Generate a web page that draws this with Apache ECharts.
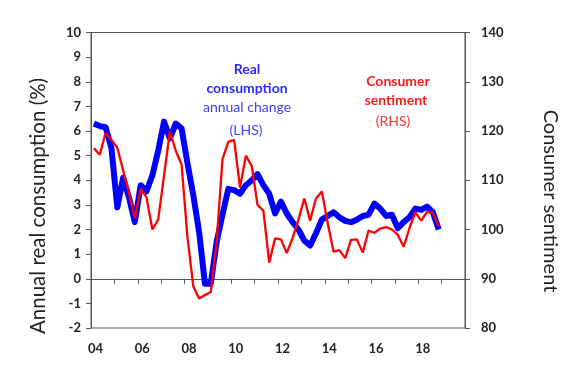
<!DOCTYPE html>
<html><head><meta charset="utf-8">
<script src="https://cdn.jsdelivr.net/npm/echarts@6/dist/echarts.min.js"></script>
<style>html,body{margin:0;padding:0;background:#fff}#c{width:570px;height:371px}</style>
</head><body><div id="c"></div>
<script>
const years = [2004,2005,2006,2007,2008,2009,2010,2011,2012,2013,2014,2015,2016,2017,2018,2019];
const quarters = [];
years.forEach(y => { for (let q = 1; q <= 4; q++) quarters.push(y + 'Q' + q); });
const xTickLabels = ['04','06','08','10','12','14','16','18'];

// Real consumption, annual % change (LHS), quarterly 2004Q1–2018Q4
const realConsumption = [6.3,6.2,6.15,5.3,2.9,4.1,3.3,2.3,3.8,3.55,4.2,5.2,6.38,5.7,6.3,6.1,
  4.7,3.4,1.9,-0.2,-0.2,1.5,2.6,3.65,3.6,3.45,3.8,4.0,4.25,3.8,3.45,2.65,3.13,2.65,2.3,2.0,
  1.55,1.35,1.85,2.4,2.55,2.7,2.5,2.35,2.3,2.4,2.55,2.6,3.05,2.85,2.55,2.6,2.05,2.3,2.5,2.85,
  2.8,2.93,2.7,2.0];
// Consumer sentiment index (RHS)
const consumerSentiment = [116.5,115.2,119.6,118.2,116.6,112,107.5,102.3,108.3,106.5,100.0,102.0,
  111,119.9,116.0,113.2,98.5,88.5,86.0,86.7,87.3,97.5,114.3,117.8,118.2,108.5,115,112.9,105,103.8,
  93.3,98.2,98.0,95.2,98.3,102,106.3,101.8,106.3,107.7,101.3,95.5,95.8,94.2,97.9,98.0,95.3,99.8,
  99.3,100.2,100.5,100.0,98.9,96.5,100.3,103.5,101.8,103.6,103.4,100.6];
const leftRange = [-2, 10, 1];
const rightRange = [80, 140, 10];

const chart = echarts.init(document.getElementById('c'));
const tickFont = {fontFamily: 'Lato', fontWeight: 'bold', fontSize: 13, color: '#222'};
const axisLineStyle = {color: '#555', width: 1};
chart.setOption({
  animation: false,
  backgroundColor: '#fff',
  grid: {left: 91, right: 105, top: 32.5, bottom: 43, show: true, borderColor: '#555', borderWidth: 1},
  xAxis: [{
    type: 'category', data: quarters, boundaryGap: true,
    axisLine: {show: false, onZero: false}, axisTick: {show: false},
    axisLabel: Object.assign({interval: 7, margin: 14, padding: [0,0,0,3],
      formatter: (v, i) => xTickLabels[i / 8] || ''}, tickFont),
    splitLine: {show: false}
  }, {
    type: 'category', data: quarters, boundaryGap: true,
    axisLine: {show: true, onZero: true, lineStyle: axisLineStyle},
    axisTick: {show: true, inside: true, interval: 3, length: 5, lineStyle: axisLineStyle},
    axisLabel: {show: false}, splitLine: {show: false}
  }],
  yAxis: [{
    type: 'value', min: leftRange[0], max: leftRange[1], interval: leftRange[2],
    axisLine: {show: true, lineStyle: axisLineStyle},
    axisTick: {show: true, length: 5, lineStyle: axisLineStyle},
    axisLabel: Object.assign({margin: 10}, tickFont),
    splitLine: {show: false}
  }, {
    type: 'value', position: 'right', min: rightRange[0], max: rightRange[1], interval: rightRange[2],
    axisLine: {show: true, lineStyle: axisLineStyle},
    axisTick: {show: true, length: 5, lineStyle: axisLineStyle},
    axisLabel: Object.assign({margin: 16}, tickFont),
    splitLine: {show: false}
  }],
  series: [{
    name: 'Real consumption', type: 'line', xAxisIndex: 0, yAxisIndex: 0,
    data: realConsumption, symbol: 'none', smooth: false,
    lineStyle: {color: '#0000ff', width: 6, join: 'round'}, itemStyle: {color: '#0000ff'}
  }, {
    name: 'Consumer sentiment', type: 'line', xAxisIndex: 0, yAxisIndex: 1,
    data: consumerSentiment, symbol: 'none', smooth: false,
    lineStyle: {color: '#ff0000', width: 2.3}, itemStyle: {color: '#ff0000'}
  }],
  graphic: [
    {type: 'text', x: 38, y: 206, rotation: Math.PI / 2, style: {text: 'Annual real consumption (%)',
      fontFamily: 'Lato', fontSize: 20.5, fill: '#222', align: 'center', verticalAlign: 'middle'}},
    {type: 'text', x: 550, y: 201, rotation: -Math.PI / 2, style: {text: 'Consumer sentiment',
      fontFamily: 'Lato', fontSize: 20, fill: '#222', align: 'center', verticalAlign: 'middle'}},
    {type: 'text', x: 247, y: 69, style: {text: 'Real', fontFamily: 'Lato', fontWeight: 'bold', fontSize: 14,
      fill: '#2a2aff', align: 'center', verticalAlign: 'middle'}},
    {type: 'text', x: 247, y: 88, style: {text: 'consumption', fontFamily: 'Lato', fontWeight: 'bold', fontSize: 14,
      fill: '#2a2aff', align: 'center', verticalAlign: 'middle'}},
    {type: 'text', x: 247, y: 107, style: {text: 'annual change', fontFamily: 'Lato', fontSize: 14,
      fill: '#4040ff', align: 'center', verticalAlign: 'middle'}},
    {type: 'text', x: 246, y: 130, style: {text: '(LHS)', fontFamily: 'Lato', fontSize: 14,
      fill: '#4040ff', align: 'center', verticalAlign: 'middle'}},
    {type: 'text', x: 398, y: 81, style: {text: 'Consumer', fontFamily: 'Lato', fontWeight: 'bold', fontSize: 14,
      fill: '#ff1a1a', align: 'center', verticalAlign: 'middle'}},
    {type: 'text', x: 396, y: 100, style: {text: 'sentiment', fontFamily: 'Lato', fontWeight: 'bold', fontSize: 14,
      fill: '#ff1a1a', align: 'center', verticalAlign: 'middle'}},
    {type: 'text', x: 393, y: 121, style: {text: '(RHS)', fontFamily: 'Lato', fontSize: 14,
      fill: '#ff3030', align: 'center', verticalAlign: 'middle'}}
  ]
});
</script></body></html>
